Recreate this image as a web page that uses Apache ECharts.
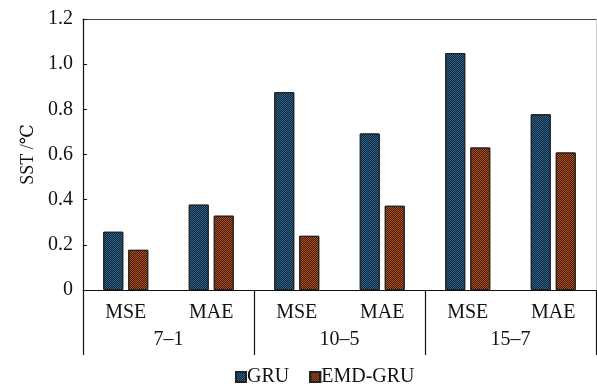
<!DOCTYPE html>
<html>
<head>
<meta charset="utf-8">
<script src="https://cdn.jsdelivr.net/npm/echarts@6/dist/echarts.min.js"></script>
<style>
  html, body { margin: 0; padding: 0; background: #fff; }
  #chart { width: 597px; height: 387px; }
</style>
</head>
<body>
<div id="chart"></div>
<script>
// Error metrics per window setting
const metrics = ['MSE', 'MAE', 'MSE', 'MAE', 'MSE', 'MAE'];
const groups = ['7–1', '10–5', '15–7'];
const gruValues = [0.258, 0.378, 0.876, 0.693, 1.049, 0.778];
const emdGruValues = [0.178, 0.329, 0.240, 0.373, 0.631, 0.609];
const yTicks = [0, 0.2, 0.4, 0.6, 0.8, 1.0, 1.2];

const FONT = '"Liberation Serif", "DejaVu Serif", serif';

function hatch(dark) {
  return {
    symbol: 'rect',
    symbolSize: 1,
    color: dark,
    dashArrayX: [[1, 1], [0, 1, 1, 0]],
    dashArrayY: [1, 0],
    rotation: 0
  };
}

const chart = echarts.init(document.getElementById('chart'), null, { renderer: 'canvas' });

chart.setOption({
  animation: false,
  aria: { enabled: false },
  grid: { left: 83, right: 1, top: 19, bottom: 97, containLabel: false },
  legend: {
    bottom: -5,
    left: 230,
    icon: 'rect',
    itemWidth: 10,
    itemHeight: 10,
    itemGap: 20,
    textStyle: { fontFamily: FONT, fontSize: 20, color: '#111', padding: [0, 0, 0, -4] },
    data: ['GRU', 'EMD-GRU']
  },
  xAxis: [
    {
      type: 'category',
      data: metrics,
      axisLine: { lineStyle: { color: '#111', width: 1.2 } },
      axisTick: { show: false },
      axisLabel: { fontFamily: FONT, fontSize: 20, color: '#111', margin: 13 }
    },
    {
      type: 'category',
      data: groups,
      position: 'bottom',
      gridIndex: 0,
      axisLine: { show: false },
      axisTick: {
        show: true,
        length: 65,
        lineStyle: { color: '#111', width: 1.2 },
        interval: function (index) { return index < 3; }
      },
      axisLabel: { fontFamily: FONT, fontSize: 20, color: '#111', margin: 40 }
    },
    {
      type: 'category',
      data: groups,
      position: 'top',
      axisLine: { lineStyle: { color: '#444', width: 1.2 } },
      axisTick: { show: false },
      axisLabel: { show: false }
    }
  ],
  yAxis: [
    {
      type: 'value',
      min: 0,
      max: 1.2,
      interval: 0.2,
      name: 'SST /℃',
      nameLocation: 'middle',
      nameGap: 46,
      nameRotate: 90,
      nameTextStyle: { fontFamily: FONT, fontSize: 18, color: '#111' },
      axisLine: { show: true, lineStyle: { color: '#111', width: 1.2 } },
      axisTick: { show: true, inside: true, length: 4, lineStyle: { color: '#111' } },
      splitLine: { show: false },
      axisLabel: {
        fontFamily: FONT,
        fontSize: 20,
        color: '#111',
        margin: 10,
        formatter: function (v) {
          const t = yTicks.find(function (k) { return Math.abs(k - v) < 1e-9; });
          if (t === undefined) return '';
          return t === 0 ? '0' : t.toFixed(1);
        }
      }
    },
    {
      type: 'value',
      position: 'right',
      min: 0,
      max: 1.2,
      axisLine: { show: true, lineStyle: { color: '#d0d0d0', width: 1 } },
      axisTick: { show: false },
      axisLabel: { show: false },
      splitLine: { show: false }
    }
  ],
  series: [
    {
      name: 'GRU',
      type: 'bar',
      xAxisIndex: 0,
      yAxisIndex: 0,
      data: gruValues,
      barWidth: 20,
      barGap: '25%',
      itemStyle: {
        color: '#2c6690',
        borderColor: '#222',
        borderWidth: 1,
        decal: hatch('#0f2536')
      }
    },
    {
      name: 'EMD-GRU',
      type: 'bar',
      xAxisIndex: 0,
      yAxisIndex: 0,
      data: emdGruValues,
      barWidth: 20,
      barGap: '25%',
      itemStyle: {
        color: '#ad5022',
        borderColor: '#222',
        borderWidth: 1,
        decal: hatch('#451a07')
      }
    }
  ]
});
</script>
</body>
</html>
